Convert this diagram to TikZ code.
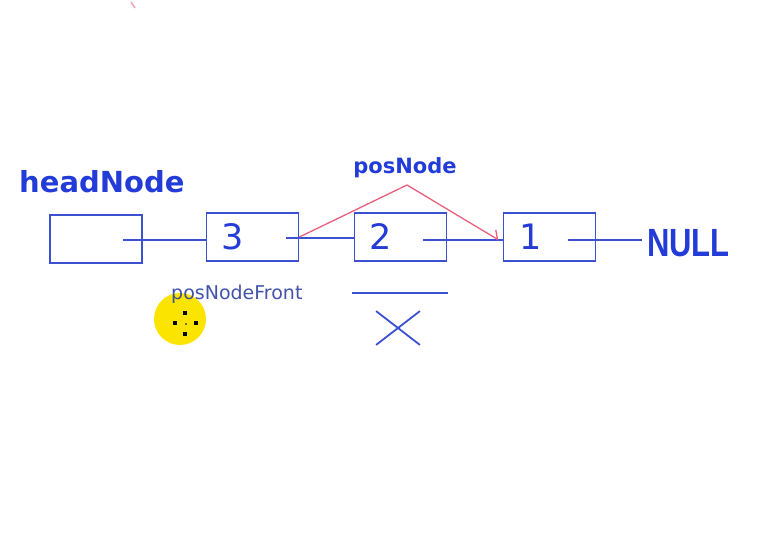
\documentclass[tikz,border=0pt]{standalone}
\usepackage{fontspec}
\setmainfont{DejaVu Sans}
\newfontfamily\fuentenull{Liberation Sans}
\usetikzlibrary{arrows.meta,shapes.misc,calc}
\definecolor{azul}{RGB}{60,80,210}
\definecolor{azultexto}{RGB}{35,60,215}
\definecolor{rojo}{RGB}{232,95,125}
\definecolor{azulgris}{RGB}{45,65,160}
\definecolor{amarillo}{RGB}{250,228,0}

\begin{document}
\begin{tikzpicture}[x=1pt,y=-1pt,
    caja/.style={draw=azul,line width=1.8pt,minimum width=92pt,minimum height=48pt,inner sep=0pt},
    numero/.style={text=azultexto,font=\fontsize{35}{35}\selectfont,inner sep=0pt},
    enlace/.style={azul,line width=1.8pt},
    etiqueta/.style={text=azultexto,inner sep=0pt}]
    \useasboundingbox (0,0) rectangle (774,543); %Delimitador de imagen
    \node[caja] (head) at (96,239) {}; %nodo cabeza
    \node[caja] (n3) at (252.5,237) {}; %nodo 3
    \node[caja] (n2) at (400.5,237) {}; %nodo 2
    \node[caja] (n1) at (549.5,237) {}; %nodo 1
    \node[numero] (v3) at ($(n3.center)+(-20,0)$) {3};
    \node[numero] (v2) at ($(n2.center)+(-20,0)$) {2};
    \node[numero] (v1) at ($(n1.center)+(-19,0)$) {1};
    \node[etiqueta,anchor=west,font=\fontsize{29}{29}\selectfont\bfseries] (headlbl) at (19,182) {headNode}; %Label de la cabeza
    \node[etiqueta,font=\fontsize{21}{21}\selectfont\bfseries] (poslbl) at (405,168) {posNode}; %Label de posNode
    \node[etiqueta,anchor=west,font=\fuentenull\fontsize{31}{31}\selectfont\bfseries] (null) at (647,243) {\scalebox{1}[1.27]{NULL}}; %fin de la lista
    \coordinate (ph) at (123,240); %punteros
    \coordinate (p3) at (286,238);
    \coordinate (p2) at (423,240);
    \coordinate (p1) at (568,240);
    \draw[enlace] (ph) -- (ph -| n3.west);
    \draw[enlace] (p3) -- (p3 -| n2.west);
    \draw[enlace] (p2) -- (p2 -| n1.west);
    \draw[enlace] (p1) -- ($(p1 -| null.west)+(-5,0)$);
    \coordinate (pico) at (407,185); %Vertice de la flecha roja
    \draw[rojo,line width=1.3pt,-{Straight Barb[left,length=6pt,width=14pt]}] (n3.east) -- (pico) -- ($(p2 -| n1.west)+(-4,0)$); %salto sobre el nodo 2
    \draw[enlace] ($(n2.south west)+(-2,31)$) coordinate (ra) -- ($(n2.south east)+(1,31)$) coordinate (rb); %raya bajo el nodo 2
    \node[cross out,draw=azul,line width=1.8pt,minimum width=42pt,minimum height=32pt,inner sep=0pt] (tacha) at (398,328) {}; %nodo borrado
    \fill[amarillo] (180,319) circle (26); %cursor
    \foreach \x/\y in {185/313,175/323,196/323,185/334}
        \fill[black] (\x-2,\y-2) rectangle (\x+2,\y+2);
    \fill[black] (186,324) circle (0.8);
    \node[etiqueta,anchor=west,text=azulgris,text opacity=0.9,font=\fontsize{19}{19}\selectfont] (frontlbl) at (171,294) {posNodeFront}; %Label de posNodeFront
    \draw[rojo,line width=1.5pt,opacity=0.6] (131,2) -- (135,8); %marca suelta
\end{tikzpicture}
\end{document}
